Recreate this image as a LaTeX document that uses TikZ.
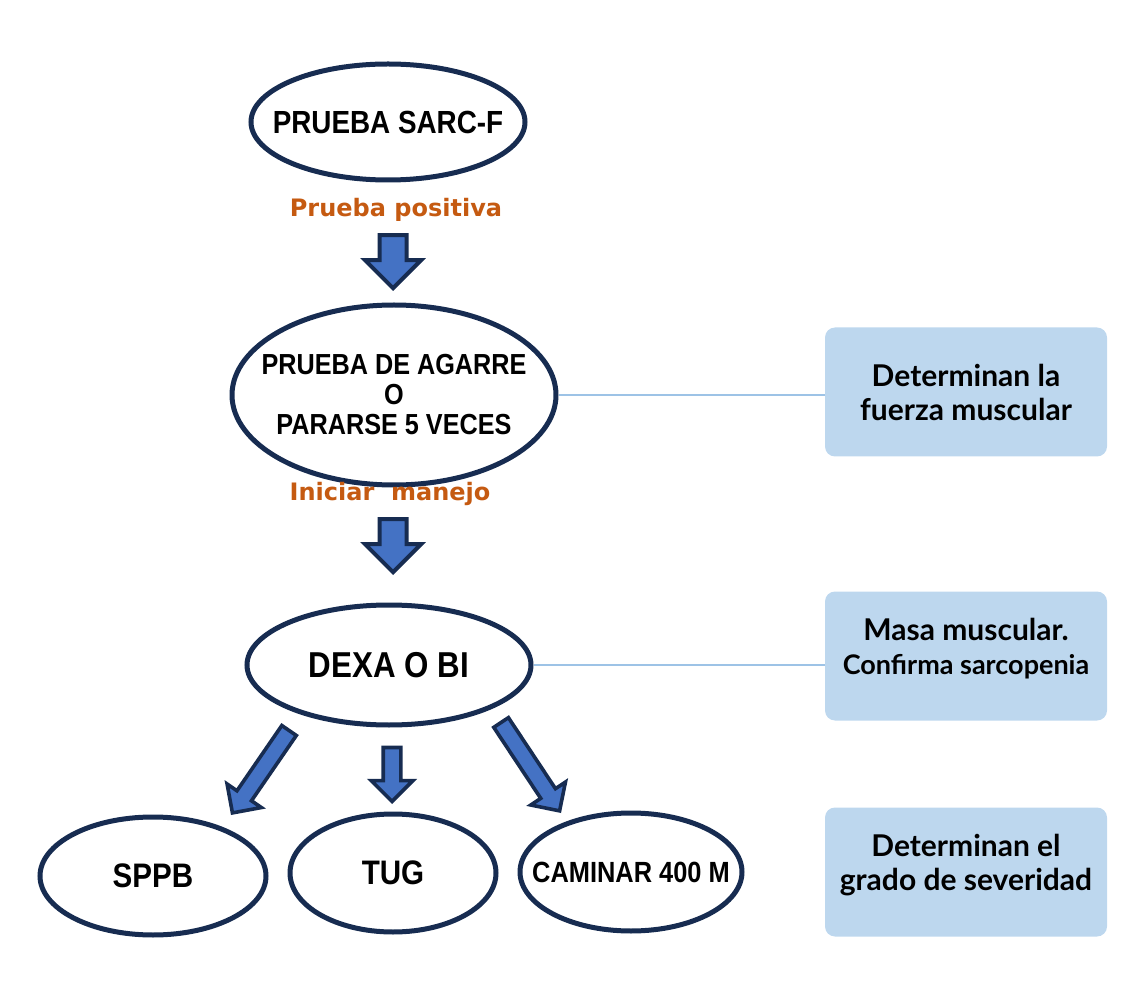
\documentclass[tikz,border=0pt]{standalone}
\usepackage{fontspec}
\setmainfont{Liberation Sans}
\newfontfamily\narrowfont[FakeStretch=0.87]{Liberation Sans}
\newfontfamily\boxfont{Lato}
\newfontfamily\tagfont{DejaVu Sans}
\usetikzlibrary{shapes.geometric,shapes.arrows}
\definecolor{sfNavy}{HTML}{172C51}
\definecolor{sfBlue}{HTML}{4472C4}
\definecolor{sfSky}{HTML}{BDD7EE}
\definecolor{sfLine}{HTML}{9DC3E6}
\definecolor{sfOrange}{HTML}{C55A11}
\tikzset{
  test/.style={ellipse,draw=sfNavy,line width=2.5pt,fill=white,
               inner xsep=-40pt,inner ysep=-12pt,align=center,
               font=\narrowfont\fontsize{14.5}{15}\selectfont\bfseries},
  bigtest/.style={test,font=\narrowfont\fontsize{18}{20}\selectfont\bfseries},
  walk/.style={test,font=\narrowfont\fontsize{17}{19}\selectfont\bfseries},
  note/.style={rectangle,rounded corners=5pt,fill=sfSky,minimum width=141pt,
               minimum height=64.5pt,align=center,
               font=\boxfont\fontsize{15}{17}\selectfont\bfseries},
  tag/.style={text=sfOrange,font=\tagfont\fontsize{12}{14}\selectfont\bfseries},
  bigarrow/.style={single arrow,draw=sfNavy,fill=sfBlue,line width=2pt,
                   inner xsep=0pt,inner ysep=5.75pt,single arrow head extend=7.25pt,
                   minimum height=26.5pt,minimum width=0pt,anchor=tip},
  smallarrow/.style={bigarrow,inner ysep=3.5pt,single arrow head extend=6pt,line width=1.8pt},
  link/.style={draw=sfLine,line width=1pt},
}

\begin{document}
\begin{tikzpicture}[x=0.5pt,y=-0.5pt]
    \useasboundingbox (0,0) rectangle (1146,1005);

    % pruebas
    \node[test,minimum width=137pt,minimum height=58pt,
          font=\narrowfont\fontsize{16}{18}\selectfont\bfseries] at (388,122) (sarc) {PRUEBA SARC-F};
    \node[test,minimum width=162pt,minimum height=90pt] at (394,395) (agarre)
        {PRUEBA DE AGARRE\\O\\PARARSE 5 VECES};
    \node[bigtest,minimum width=142pt,minimum height=60pt] at (389,665) (dexa) {DEXA O BI};
    \node[walk,minimum width=113pt,minimum height=59pt] at (153,876) (sppb) {SPPB};
    \node[walk,minimum width=103pt,minimum height=59pt] at (393,873) (tug) {TUG};
    \node[walk,minimum width=111pt,minimum height=59pt,
          font=\narrowfont\fontsize{14.6}{16}\selectfont\bfseries] at (631,872) (caminar) {CAMINAR 400 M};

    \node[tag] at (396,210) (positiva) {Prueba positiva};
    \node[tag] at (390,494) (manejo) {Iniciar~ manejo};

    % flechas
    \node[bigarrow,rotate=-90] at (393,291) (f1) {};
    \node[bigarrow,rotate=-90] at (393,575) (f2) {};
    \node[smallarrow,rotate=-124.5,minimum height=50pt] at (231,815) (f3) {};
    \node[smallarrow,rotate=-90,minimum height=27pt] at (392,804) (f4) {};
    \node[smallarrow,rotate=-56.5,minimum height=53pt] at (561,813) (f5) {};

    % notas
    \node[note] at (966,392) (fuerza) {Determinan la\\fuerza muscular};
    \node[note,text depth=10pt] at (966,656) (masa)
        {Masa muscular.\\{\fontsize{13.5}{16}\selectfont Confirma sarcopenia}};
    \node[note,text depth=10pt] at (966,872) (grado) {Determinan el\\grado de severidad};

    \draw[link] (agarre.east) -- (agarre.east -| fuerza.west);
    \draw[link] (dexa.east) -- (dexa.east -| masa.west);
\end{tikzpicture}
\end{document}
